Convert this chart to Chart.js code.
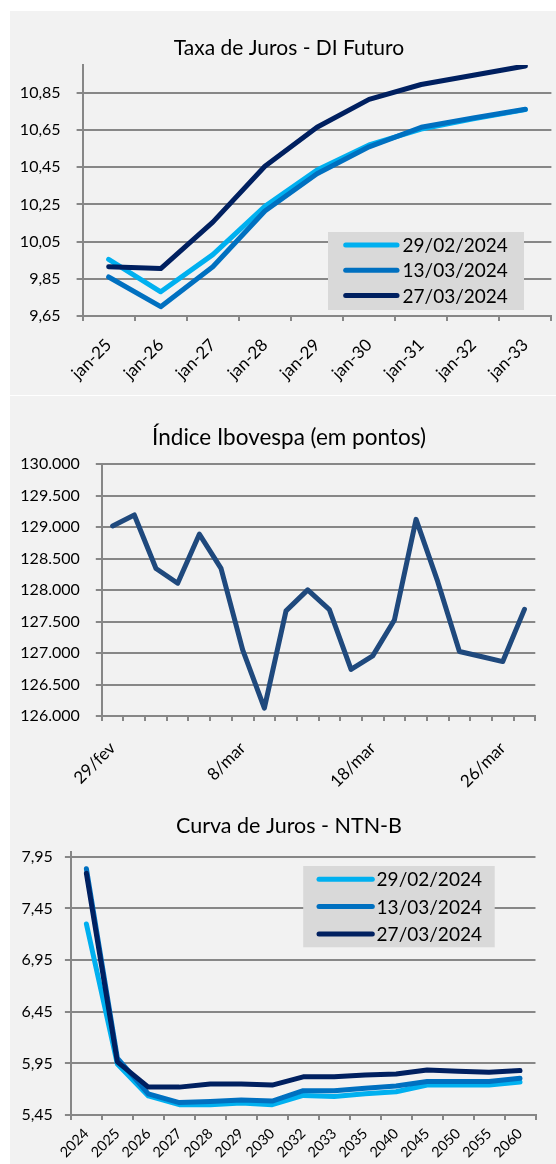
<!DOCTYPE html>
<html>
<head>
<meta charset="utf-8">
<script src="https://cdn.jsdelivr.net/npm/chart.js@4.4.1/dist/chart.umd.min.js"></script>
<style>
  body { margin: 0; background: #fff; overflow: hidden; }
  #wrap { position: absolute; left: 10px; top: 11px; width: 546px; height: 1153px; background: #f2f2f2; overflow: hidden; }
  #wrap canvas { position: absolute; left: 0; }
  .sep { position: absolute; left: 0; width: 546px; height: 1px; background: #fff; }
</style>
</head>
<body>
<div id="wrap">
  <canvas id="c1" width="546" height="384" style="top:0"></canvas>
  <div class="sep" style="top:384px"></div>
  <canvas id="c2" width="546" height="392" style="top:385px"></canvas>
  <canvas id="c3" width="546" height="394" style="top:759px"></canvas>
</div>
<script>
// Taxa de Juros - DI Futuro
const diLabels = ['jan-25', 'jan-26', 'jan-27', 'jan-28', 'jan-29', 'jan-30', 'jan-31', 'jan-32', 'jan-33'];
const di2902 = [9.955, 9.78, 9.98, 10.24, 10.435, 10.57, 10.655, 10.71, 10.76];
const di1303 = [9.86, 9.70, 9.915, 10.215, 10.415, 10.56, 10.665, 10.715, 10.762];
const di2703 = [9.915, 9.905, 10.155, 10.455, 10.665, 10.815, 10.895, 10.945, 10.995];
const diTicks = [9.65, 9.85, 10.05, 10.25, 10.45, 10.65, 10.85];

// Índice Ibovespa
const iboLabels = ['29/fev', '1/mar', '4/mar', '5/mar', '6/mar', '7/mar', '8/mar', '11/mar', '12/mar', '13/mar',
  '14/mar', '15/mar', '18/mar', '19/mar', '20/mar', '21/mar', '22/mar', '25/mar', '26/mar', '27/mar'];
const iboPontos = [129020, 129195, 128345, 128110, 128890, 128345, 127050, 126125, 127670, 128005,
  127690, 126740, 126955, 127525, 129125, 128135, 127025, 126945, 126865, 127695];
const iboTicks = [126000, 126500, 127000, 127500, 128000, 128500, 129000, 129500, 130000];

// Curva de Juros - NTN-B
const ntnbLabels = ['2024', '2025', '2026', '2027', '2028', '2029', '2030', '2032', '2033', '2035', '2040', '2045', '2050', '2055', '2060'];
const ntnb2902 = [7.30, 5.945, 5.635, 5.55, 5.55, 5.565, 5.55, 5.64, 5.63, 5.655, 5.675, 5.74, 5.74, 5.74, 5.77];
const ntnb1303 = [7.835, 6.00, 5.655, 5.57, 5.58, 5.595, 5.585, 5.685, 5.685, 5.71, 5.73, 5.775, 5.775, 5.775, 5.805];
const ntnb2703 = [7.79, 5.965, 5.72, 5.72, 5.75, 5.75, 5.74, 5.82, 5.82, 5.837, 5.847, 5.885, 5.873, 5.863, 5.88];
const ntnbTicks = [5.45, 5.95, 6.45, 6.95, 7.45, 7.95];

const dateLabels = ['29/02/2024', '13/03/2024', '27/03/2024'];
const blues = ['#00b0f0', '#0070c0', '#002060'];

const gridColor = '#878787';
const font = 'Lato';

const comma = v => v.toFixed(2).replace('.', ',');
const thousands = v => String(v).replace(/\B(?=(\d{3})+(?!\d))/g, '.');

// title centred on the whole (wider, cropped) excel panel, not on this canvas
const panelTitle = {
  id: 'panelTitle',
  afterDraw(chart, args, o) {
    if (!o || !o.text) return;
    const ctx = chart.ctx;
    ctx.save();
    ctx.font = o.size + 'px ' + font;
    ctx.fillStyle = '#000';
    ctx.textAlign = 'center';
    ctx.textBaseline = 'alphabetic';
    ctx.fillText(o.text, o.x, o.y);
    ctx.restore();
  }
};

// legend drawn as a grey box inside the plot, like the excel one
const boxLegend = {
  id: 'boxLegend',
  afterDraw(chart, args, o) {
    if (!o || !o.w) return;
    const { ctx, chartArea: a } = chart;
    const x0 = a.right - o.dx, y0 = a.top + o.dy;
    ctx.save();
    ctx.fillStyle = '#d9d9d9';
    ctx.fillRect(x0, y0, o.w, o.h);
    ctx.font = '19px ' + font;
    ctx.textBaseline = 'middle';
    ctx.lineCap = 'round';
    ctx.lineWidth = 5;
    chart.data.datasets.forEach((ds, i) => {
      const y = y0 + o.row0 + i * o.rowGap;
      ctx.strokeStyle = ds.borderColor;
      ctx.beginPath();
      ctx.moveTo(x0 + o.lineX[0], y);
      ctx.lineTo(x0 + o.lineX[1], y);
      ctx.stroke();
      ctx.fillStyle = '#000';
      ctx.fillText(ds.label, x0 + o.textX, y + 1);
    });
    ctx.restore();
  }
};

function lineChart(id, c) {
  return new Chart(document.getElementById(id), {
    type: 'line',
    data: {
      labels: c.labels,
      datasets: c.series.map((s, i) => ({
        label: s.label,
        data: s.data,
        borderColor: s.color,
        backgroundColor: s.color,
        borderWidth: 5,
        borderCapStyle: 'round',
        borderJoinStyle: 'round',
        pointRadius: 0,
        tension: 0,
        order: c.series.length - i
      }))
    },
    options: {
      responsive: false,
      animation: false,
      layout: { padding: { left: 0, right: c.padR, top: c.top, bottom: 0 } },
      plugins: {
        legend: { display: false },
        tooltip: { enabled: false },
        title: { display: false },
        panelTitle: { text: c.title, size: c.titleSize, x: 279, y: c.titleY },
        boxLegend: c.legend || {}
      },
      scales: {
        x: {
          offset: true,
          grid: { offset: true, drawOnChartArea: false, drawTicks: true, tickLength: 5, color: gridColor, lineWidth: 2 },
          border: { color: gridColor, width: 2 },
          ticks: {
            autoSkip: false, minRotation: 45, maxRotation: 45, padding: c.xPad,
            color: '#000', font: { family: font, size: c.xSize },
            callback: c.xCallback || function (v) { return this.getLabelForValue(v); }
          },
          afterFit: s => { s.height = c.xHeight; }
        },
        y: {
          min: c.min,
          max: c.max,
          afterBuildTicks: s => { s.ticks = c.ticks.map(v => ({ value: v })); },
          afterFit: s => { s.width = c.yWidth; },
          grid: { color: gridColor, lineWidth: 2, tickLength: 6 },
          border: { color: gridColor, width: 2 },
          ticks: { padding: c.yPad, color: '#000', font: { family: font, size: 16 }, callback: c.fmt }
        }
      }
    },
    plugins: [panelTitle, boxLegend]
  });
}

lineChart('c1', {
  title: 'Taxa de Juros - DI Futuro', titleY: 44, titleSize: 21,
  labels: diLabels,
  series: [
    { label: dateLabels[0], data: di2902, color: blues[0] },
    { label: dateLabels[1], data: di1303, color: blues[1] },
    { label: dateLabels[2], data: di2703, color: blues[2] }
  ],
  min: 9.65, max: 11.0, ticks: diTicks, fmt: comma,
  top: 54, padR: 4.6, yWidth: 72.6, xHeight: 79, xPad: 14, xSize: 17, yPad: 16,
  legend: { dx: 223.4, dy: 167, w: 196, h: 78, row0: 13, rowGap: 25.3, lineX: [17.7, 69], textX: 74.5 }
});

lineChart('c2', {
  title: 'Índice Ibovespa (em pontos)', titleY: 49, titleSize: 22.5,
  labels: iboLabels,
  series: [{ label: 'Ibovespa', data: iboPontos, color: '#1f497d' }],
  min: 126000, max: 130000, ticks: iboTicks, fmt: thousands,
  xCallback: (v, i) => (i % 6 === 0 ? iboLabels[i] : ''),
  top: 68.3, padR: 5.3, yWidth: 91.8, xHeight: 72, xPad: 17, xSize: 17, yPad: 16
});

lineChart('c3', {
  title: 'Curva de Juros - NTN-B', titleY: 62.7, titleSize: 21.5,
  labels: ntnbLabels,
  series: [
    { label: dateLabels[0], data: ntnb2902, color: blues[0] },
    { label: dateLabels[1], data: ntnb1303, color: blues[1] },
    { label: dateLabels[2], data: ntnb2703, color: blues[2] }
  ],
  min: 5.45, max: 8.0, ticks: ntnbTicks, fmt: comma,
  top: 81.7, padR: 20.5, yWidth: 60.9, xHeight: 49, xPad: 5, xSize: 14.5, yPad: 12,
  legend: { dx: 232.3, dy: 14.3, w: 191.5, h: 81.3, row0: 13.3, rowGap: 27.3, lineX: [15.8, 69.1], textX: 73.4 }
});
</script>
</body>
</html>
